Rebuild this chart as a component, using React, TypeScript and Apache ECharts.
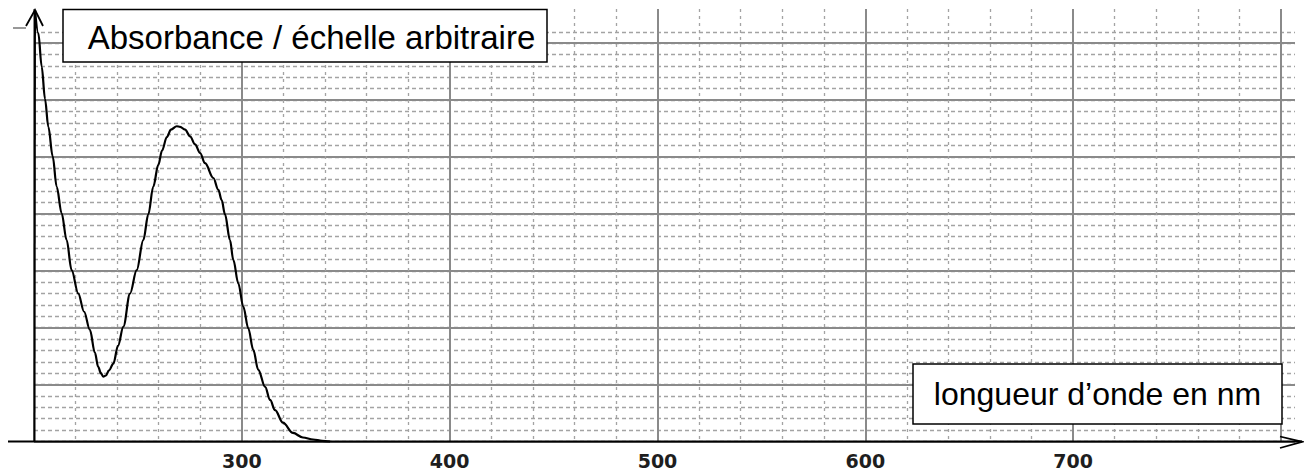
import React, { useEffect, useRef } from "react";
import * as echarts from "echarts";

// Spectrum (wavelength in nm, absorbance in arbitrary units)
const wavelength = [200.5, 202.1, 203.7, 205.3, 206.9, 209.0, 210.9, 213.3, 215.7, 218.1, 221.3, 224.1, 226.9, 229.3, 230.9, 232.2, 233.3, 234.6, 236.1, 238.2, 240.4, 243.0, 246.2, 249.4, 252.6, 255.0, 257.4, 259.8, 261.6, 263.9, 265.9, 268.7, 270.3, 272.7, 275.1, 277.5, 279.9, 282.3, 286.3, 288.7, 290.3, 291.9, 294.3, 295.9, 298.3, 300.7, 303.1, 305.5, 307.9, 311.2, 313.6, 316.0, 319.8, 324.6, 329.4, 334.3, 338.6, 342.5];
const absorbance = [75.8, 71.7, 65.9, 60.2, 55.3, 50.1, 44.8, 40.1, 35.4, 30.1, 26.0, 22.8, 19.6, 15.6, 13.1, 12.0, 11.4, 11.6, 12.5, 13.7, 16.8, 20.2, 26.0, 30.1, 35.4, 39.9, 44.8, 48.6, 51.1, 53.5, 54.8, 55.4, 55.3, 54.8, 53.6, 52.2, 50.7, 48.9, 46.3, 44.2, 42.4, 39.9, 35.4, 31.9, 27.8, 23.7, 19.9, 16.1, 12.6, 9.6, 7.3, 5.5, 3.3, 1.5, 0.7, 0.35, 0.12, 0];

const xTickLabels = ["300", "400", "500", "600", "700"];
const yAxisTitle = "Absorbance / échelle arbitraire";
const xAxisTitle = "longueur d’onde en nm";

const X_MIN = 200;
const X_MAX = 800;

export default function App() {
  const ref = useRef<HTMLDivElement>(null);

  useEffect(() => {
    if (!ref.current) return;
    const chart = echarts.init(ref.current, null, { renderer: "svg" });

    const majorColor = "#8a8a8a";
    const minorColor = "#a3a3a3";
    const left = 34;
    const bottom = 32.5;

    const option: any = {
      animation: false,
      backgroundColor: "#ffffff",
      grid: [
        // main grid: vertical lines + curve
        { left: left, right: 23, top: 9, bottom: bottom, containLabel: false },
        // dashed horizontal lines (every 2 units up to 72)
        { left: left, right: 9, top: 31.8, bottom: bottom, containLabel: false },
        // solid horizontal lines (every 10 units up to 70)
        { left: left, right: 9, top: 43.2, bottom: bottom, containLabel: false },
      ],
      xAxis: [
        {
          gridIndex: 0,
          type: "value",
          min: X_MIN,
          max: X_MAX,
          interval: 100,
          axisLine: { show: false },
          axisTick: { show: false },
          axisLabel: {
            show: true,
            margin: 10,
            fontFamily: "DejaVu Sans",
            fontWeight: "bold",
            fontSize: 19,
            color: "#1e1e1e",
            formatter: (v: number) => (xTickLabels.indexOf(String(v)) >= 0 ? String(v) : ""),
          },
          splitLine: { show: true, lineStyle: { color: majorColor, width: 2, type: "solid" } },
          minorTick: { show: false, splitNumber: 5 },
          minorSplitLine: { show: true, lineStyle: { color: minorColor, width: 1.3, type: [3, 4] } },
          z: 1,
        },
        { gridIndex: 1, type: "value", min: 0, max: 1, show: false },
        { gridIndex: 2, type: "value", min: 0, max: 1, show: false },
      ],
      yAxis: [
        { gridIndex: 0, type: "value", min: 0, max: 76, show: false },
        {
          gridIndex: 1,
          type: "value",
          min: 0,
          max: 72,
          interval: 2,
          axisLine: { show: false },
          axisTick: { show: false },
          axisLabel: { show: false },
          splitLine: { show: true, lineStyle: { color: minorColor, width: 1.3, type: [4, 3] } },
        },
        {
          gridIndex: 2,
          type: "value",
          min: 0,
          max: 70,
          interval: 10,
          axisLine: { show: false },
          axisTick: { show: false },
          axisLabel: { show: false },
          splitLine: { show: true, lineStyle: { color: majorColor, width: 2, type: "solid" } },
        },
      ],
      series: [
        {
          type: "line",
          xAxisIndex: 0,
          yAxisIndex: 0,
          data: wavelength.map((w, i) => [w, absorbance[i]]),
          smooth: 0.35,
          smoothMonotone: "x",
          showSymbol: false,
          symbol: "none",
          clip: false,
          lineStyle: { color: "#000000", width: 2.2 },
          z: 10,
        },
      ],
      graphic: [
        // x axis with open arrow
        { type: "line", z: 50, shape: { x1: 8, y1: 441.5, x2: 1302, y2: 441.5 }, style: { stroke: "#000", lineWidth: 2 } },
        { type: "polyline", z: 50, shape: { points: [[1280, 436.5], [1302, 441.8], [1280, 448]] }, style: { stroke: "#000", lineWidth: 1.8, fill: null } },
        // y axis with open arrow
        { type: "line", z: 50, shape: { x1: 34.5, y1: 441.5, x2: 35, y2: 10 }, style: { stroke: "#000", lineWidth: 2 } },
        { type: "polyline", z: 50, shape: { points: [[26, 26], [35, 10], [43, 26]] }, style: { stroke: "#000", lineWidth: 1.8, fill: null } },
        { type: "line", z: 50, shape: { x1: 13, y1: 28, x2: 26, y2: 28 }, style: { stroke: "#333", lineWidth: 1 } },
        // boxes
        { type: "rect", z: 60, shape: { x: 63, y: 9.5, width: 484, height: 52.5 }, style: { fill: "#ffffff", stroke: "#000", lineWidth: 1.5 } },
        {
          type: "text", z: 61, x: 311.5, y: 37,
          style: { text: yAxisTitle, fontFamily: "Liberation Sans, Arial, sans-serif", fontSize: 33, fill: "#000", align: "center", verticalAlign: "middle" },
        },
        { type: "rect", z: 60, shape: { x: 913, y: 364, width: 369, height: 60 }, style: { fill: "#ffffff", stroke: "#000", lineWidth: 1.5 } },
        {
          type: "text", z: 61, x: 1097.5, y: 394,
          style: { text: xAxisTitle, fontFamily: "Liberation Sans, Arial, sans-serif", fontSize: 32, fill: "#000", align: "center", verticalAlign: "middle" },
        },
      ],
    };

    chart.setOption(option);
    return () => chart.dispose();
  }, []);

  return (
    <div
      ref={ref}
      style={{ position: "fixed", left: 0, top: 0, width: "1304px", height: "474px", background: "#fff" }}
    />
  );
}
